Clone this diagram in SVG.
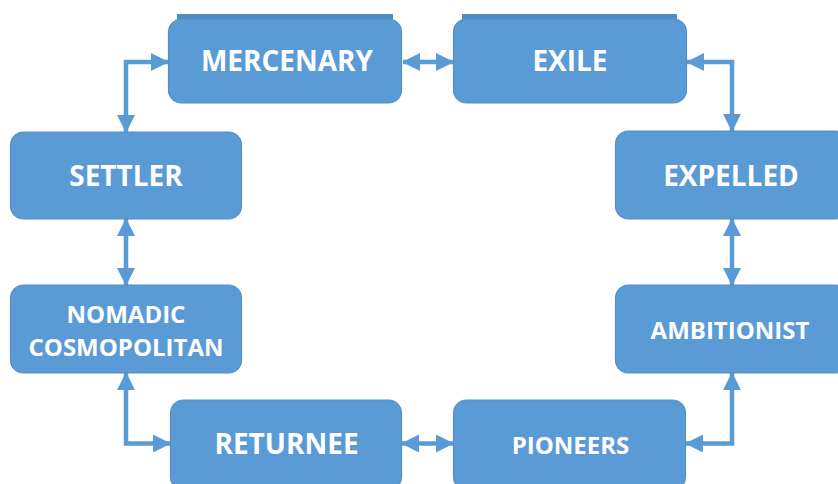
<svg xmlns="http://www.w3.org/2000/svg" width="838" height="484" viewBox="0 0 838 484">
  <style>
    .box { fill: #5b9bd5; stroke: #5590ca; stroke-width: 1.2; }
    .band { fill: #518bc3; }
    .lbl { font-family: "Open Sans", "Liberation Sans", sans-serif; font-weight: bold; fill: #ffffff; text-anchor: middle; }
    .big { font-size: 28px; }
    .small { font-size: 24px; }
    .conn { fill: none; stroke: #5b9bd5; stroke-width: 4.5; marker-start: url(#ah); marker-end: url(#ah); }
  </style>
  <defs>
    <marker id="ah" markerUnits="userSpaceOnUse" markerWidth="18" markerHeight="20" viewBox="0 0 18 20" refX="17" refY="10" orient="auto-start-reverse">
      <path d="M0,1 L18,10 L0,19 Z" fill="#5b9bd5"/>
    </marker>
  </defs>
  <rect width="838" height="484" fill="#ffffff"/>

  <g id="connectors">
    <path class="conn" d="M168,62 H126 V132"/>
    <path class="conn" d="M403,62 H453"/>
    <path class="conn" d="M687,62 H732 V131"/>
    <path class="conn" d="M126,219 V285"/>
    <path class="conn" d="M732,219 V285"/>
    <path class="conn" d="M126,373 V443.5 H170"/>
    <path class="conn" d="M402,443.5 H453"/>
    <path class="conn" d="M686,443.5 H732 V373"/>
  </g>

  <g id="node-mercenary">
    <rect class="band" x="177" y="14" width="216" height="10"/>
    <rect class="box" x="168.5" y="19" width="233" height="84" rx="13"/>
    <text class="lbl big" x="287" y="71">MERCENARY</text>
  </g>
  <g id="node-exile">
    <rect class="band" x="462" y="14" width="215" height="10"/>
    <rect class="box" x="453.5" y="19" width="233" height="84" rx="13"/>
    <text class="lbl big" x="570" y="71">EXILE</text>
  </g>
  <g id="node-settler">
    <rect class="box" x="10.5" y="132" width="231" height="87" rx="13"/>
    <text class="lbl big" x="126" y="186">SETTLER</text>
  </g>
  <g id="node-expelled">
    <rect class="box" x="615.5" y="131" width="232" height="88" rx="13"/>
    <text class="lbl big" x="731" y="186">EXPELLED</text>
  </g>
  <g id="node-nomadic">
    <rect class="box" x="10.5" y="285" width="231" height="88" rx="13"/>
    <text class="lbl small" x="126" y="323">NOMADIC</text>
    <text class="lbl small" x="126" y="356">COSMOPOLITAN</text>
  </g>
  <g id="node-ambitionist">
    <rect class="box" x="615.5" y="285" width="232" height="88" rx="13"/>
    <text class="lbl small" x="730" y="339">AMBITIONIST</text>
  </g>
  <g id="node-returnee">
    <rect class="box" x="170.5" y="400" width="231" height="90" rx="13"/>
    <text class="lbl big" x="286.5" y="454">RETURNEE</text>
  </g>
  <g id="node-pioneers">
    <rect class="box" x="453.5" y="400" width="232" height="90" rx="13"/>
    <text class="lbl small" x="570.5" y="453.5">PIONEERS</text>
  </g>
</svg>
